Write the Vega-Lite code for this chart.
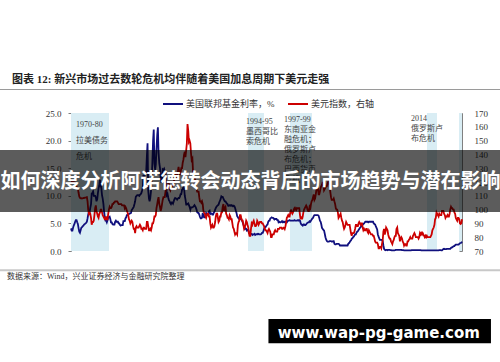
{
"$schema":"https://vega.github.io/schema/vega-lite/v6.json",
"width":391,"height":138,
"autosize":"none",
"padding":{"left":71,"top":113,"right":38,"bottom":111},
"background":"white",
"title":{"text":"图表 12:  新兴市场过去数轮危机均伴随着美国加息周期下美元走强","anchor":"start","frame":"group","dx":-59,"dy":10,"offset":5,"baseline":"alphabetic","font":"Liberation Serif, Noto Sans CJK SC","fontSize":11,"fontWeight":"bold","color":"#222222"},
"config":{"view":{"stroke":null},"font":"Liberation Serif, Noto Sans CJK SC",
"axis":{"grid":false,"domainColor":"#808080","tickColor":"#808080","labelColor":"#333333","labelFont":"Liberation Serif","labelFontSize":9,"zindex":1}},
"datasets":{"series":[
{"t":1971.00,"f":4.1,"d":120.5},{"t":1971.08,"f":3.7,"d":120.3},{"t":1971.17,"f":3.7,"d":120.1},{"t":1971.25,"f":4.2,"d":119.9},{"t":1971.33,"f":4.6,"d":120.0},{"t":1971.42,"f":4.9,"d":119.8},{"t":1971.50,"f":5.3,"d":119.5},{"t":1971.58,"f":5.6,"d":117.8},{"t":1971.67,"f":5.6,"d":116.8},{"t":1971.75,"f":5.2,"d":116.0},{"t":1971.83,"f":4.9,"d":115.2},{"t":1971.92,"f":4.1,"d":112.0},
{"t":1972.00,"f":3.5,"d":109.5},{"t":1972.08,"f":3.3,"d":108.5},{"t":1972.17,"f":3.8,"d":108.2},{"t":1972.25,"f":4.2,"d":108.3},{"t":1972.33,"f":4.3,"d":108.0},{"t":1972.42,"f":4.5,"d":108.2},{"t":1972.50,"f":4.6,"d":108.5},{"t":1972.58,"f":4.8,"d":108.4},{"t":1972.67,"f":4.9,"d":108.6},{"t":1972.75,"f":5.0,"d":108.7},{"t":1972.83,"f":5.1,"d":108.8},{"t":1972.92,"f":5.3,"d":109.0},
{"t":1973.00,"f":5.9,"d":106},{"t":1973.08,"f":6.6,"d":100},{"t":1973.17,"f":7.1,"d":97},{"t":1973.25,"f":7.1,"d":98},{"t":1973.33,"f":7.8,"d":97},{"t":1973.42,"f":8.5,"d":94},{"t":1973.50,"f":10.4,"d":89},{"t":1973.58,"f":10.5,"d":91},{"t":1973.67,"f":10.8,"d":91},{"t":1973.75,"f":10.0,"d":92},{"t":1973.83,"f":10.0,"d":96},{"t":1973.92,"f":10.0,"d":101},
{"t":1974.00,"f":9.7,"d":103},{"t":1974.08,"f":9.0,"d":99},{"t":1974.17,"f":9.4,"d":97},{"t":1974.25,"f":10.5,"d":95},{"t":1974.33,"f":11.3,"d":94},{"t":1974.42,"f":11.9,"d":97},{"t":1974.50,"f":12.9,"d":98},{"t":1974.58,"f":12.0,"d":100},{"t":1974.67,"f":11.3,"d":100},{"t":1974.75,"f":10.1,"d":98},{"t":1974.83,"f":9.5,"d":96},{"t":1974.92,"f":8.5,"d":95},
{"t":1975.00,"f":7.1,"d":94},{"t":1975.08,"f":6.2,"d":93},{"t":1975.17,"f":5.5,"d":93},{"t":1975.25,"f":5.5,"d":95},{"t":1975.33,"f":5.2,"d":93},{"t":1975.42,"f":5.6,"d":93},{"t":1975.50,"f":6.1,"d":97},{"t":1975.58,"f":6.1,"d":100},{"t":1975.67,"f":6.2,"d":102},{"t":1975.75,"f":5.8,"d":101},{"t":1975.83,"f":5.2,"d":101},{"t":1975.92,"f":5.2,"d":102},
{"t":1976.00,"f":4.9,"d":104},{"t":1976.08,"f":4.8,"d":104},{"t":1976.17,"f":4.8,"d":105},{"t":1976.25,"f":4.8,"d":105},{"t":1976.33,"f":5.3,"d":106},{"t":1976.42,"f":5.5,"d":106},{"t":1976.50,"f":5.3,"d":106},{"t":1976.58,"f":5.3,"d":106},{"t":1976.67,"f":5.3,"d":105},{"t":1976.75,"f":5.0,"d":104},{"t":1976.83,"f":5.0,"d":104},{"t":1976.92,"f":4.7,"d":104},
{"t":1977.00,"f":4.6,"d":104},{"t":1977.08,"f":4.7,"d":104},{"t":1977.17,"f":4.7,"d":103},{"t":1977.25,"f":4.7,"d":103},{"t":1977.33,"f":5.4,"d":103},{"t":1977.42,"f":5.4,"d":103},{"t":1977.50,"f":5.4,"d":101},{"t":1977.58,"f":5.9,"d":102},{"t":1977.67,"f":6.1,"d":101},{"t":1977.75,"f":6.5,"d":99},{"t":1977.83,"f":6.5,"d":98},{"t":1977.92,"f":6.6,"d":96},
{"t":1978.00,"f":6.7,"d":93},{"t":1978.08,"f":6.8,"d":92},{"t":1978.17,"f":6.8,"d":90},{"t":1978.25,"f":6.9,"d":91},{"t":1978.33,"f":7.4,"d":92},{"t":1978.42,"f":7.6,"d":91},{"t":1978.50,"f":7.8,"d":88},{"t":1978.58,"f":8.0,"d":86},{"t":1978.67,"f":8.5,"d":86},{"t":1978.75,"f":9.0,"d":83},{"t":1978.83,"f":9.8,"d":87},{"t":1978.92,"f":10.0,"d":88},
{"t":1979.00,"f":10.1,"d":87},{"t":1979.08,"f":10.1,"d":87},{"t":1979.17,"f":10.1,"d":87},{"t":1979.25,"f":10.0,"d":88},{"t":1979.33,"f":10.2,"d":89},{"t":1979.42,"f":10.3,"d":88},{"t":1979.50,"f":10.5,"d":86},{"t":1979.58,"f":10.9,"d":86},{"t":1979.67,"f":11.4,"d":85},{"t":1979.75,"f":13.8,"d":87},{"t":1979.83,"f":13.2,"d":87},{"t":1979.92,"f":13.8,"d":86},
{"t":1980.00,"f":14.0,"d":86},{"t":1980.08,"f":14.1,"d":86},{"t":1980.17,"f":17.2,"d":91},{"t":1980.25,"f":19.5,"d":91},{"t":1980.33,"f":11.0,"d":88},{"t":1980.42,"f":9.5,"d":85},{"t":1980.50,"f":9.0,"d":85},{"t":1980.58,"f":9.6,"d":86},{"t":1980.67,"f":10.9,"d":85},{"t":1980.75,"f":12.8,"d":87},{"t":1980.83,"f":15.9,"d":90},{"t":1980.92,"f":20.0,"d":90},
{"t":1981.00,"f":22.0,"d":92},{"t":1981.08,"f":15.9,"d":95},{"t":1981.17,"f":14.7,"d":95},{"t":1981.25,"f":15.7,"d":96},{"t":1981.33,"f":18.5,"d":101},{"t":1981.42,"f":21.0,"d":104},{"t":1981.50,"f":22.4,"d":107},{"t":1981.58,"f":17.8,"d":109},{"t":1981.67,"f":15.9,"d":104},{"t":1981.75,"f":15.1,"d":102},{"t":1981.83,"f":13.3,"d":99},{"t":1981.92,"f":12.4,"d":101},
{"t":1982.00,"f":13.2,"d":104},{"t":1982.08,"f":14.8,"d":107},{"t":1982.17,"f":14.7,"d":109},{"t":1982.25,"f":14.9,"d":109},{"t":1982.33,"f":14.5,"d":109},{"t":1982.42,"f":14.2,"d":113},{"t":1982.50,"f":12.6,"d":115},{"t":1982.58,"f":10.1,"d":116},{"t":1982.67,"f":10.3,"d":117},{"t":1982.75,"f":9.7,"d":119},{"t":1982.83,"f":9.2,"d":119},{"t":1982.92,"f":9.0,"d":115},
{"t":1983.00,"f":8.7,"d":114},{"t":1983.08,"f":8.5,"d":116},{"t":1983.17,"f":8.8,"d":117},{"t":1983.25,"f":8.8,"d":117},{"t":1983.33,"f":8.6,"d":118},{"t":1983.42,"f":9.0,"d":120},{"t":1983.50,"f":9.4,"d":123},{"t":1983.58,"f":9.6,"d":126},{"t":1983.67,"f":9.5,"d":125},{"t":1983.75,"f":9.5,"d":123},{"t":1983.83,"f":9.3,"d":126},{"t":1983.92,"f":9.5,"d":128},
{"t":1984.00,"f":9.6,"d":131},{"t":1984.08,"f":9.6,"d":127},{"t":1984.17,"f":9.9,"d":125},{"t":1984.25,"f":10.3,"d":127},{"t":1984.33,"f":10.3,"d":130},{"t":1984.42,"f":11.1,"d":130},{"t":1984.50,"f":11.2,"d":134},{"t":1984.58,"f":11.6,"d":136},{"t":1984.67,"f":11.3,"d":140},{"t":1984.75,"f":10.0,"d":142},{"t":1984.83,"f":9.4,"d":138},{"t":1984.92,"f":8.4,"d":143},
{"t":1985.00,"f":8.4,"d":148},{"t":1985.08,"f":8.5,"d":162},{"t":1985.17,"f":8.6,"d":157},{"t":1985.25,"f":8.3,"d":149},{"t":1985.33,"f":8.0,"d":150},{"t":1985.42,"f":7.5,"d":148},{"t":1985.50,"f":7.9,"d":141},{"t":1985.58,"f":7.9,"d":136},{"t":1985.67,"f":7.9,"d":137},{"t":1985.75,"f":8.0,"d":127},{"t":1985.83,"f":8.1,"d":126},{"t":1985.92,"f":8.3,"d":123},
{"t":1986.00,"f":8.1,"d":122},{"t":1986.08,"f":7.9,"d":117},{"t":1986.17,"f":7.5,"d":115},{"t":1986.25,"f":7.0,"d":113},{"t":1986.33,"f":6.9,"d":113},{"t":1986.42,"f":6.9,"d":113},{"t":1986.50,"f":6.6,"d":109},{"t":1986.58,"f":6.2,"d":106},{"t":1986.67,"f":5.9,"d":106},{"t":1986.75,"f":5.9,"d":105},{"t":1986.83,"f":6.0,"d":106},{"t":1986.92,"f":6.9,"d":104},
{"t":1987.00,"f":6.4,"d":99},{"t":1987.08,"f":6.1,"d":98},{"t":1987.17,"f":6.1,"d":97},{"t":1987.25,"f":6.4,"d":95},{"t":1987.33,"f":6.9,"d":94},{"t":1987.42,"f":6.7,"d":96},{"t":1987.50,"f":6.6,"d":97},{"t":1987.58,"f":6.7,"d":97},{"t":1987.67,"f":7.2,"d":95},{"t":1987.75,"f":7.3,"d":95},{"t":1987.83,"f":6.7,"d":90},{"t":1987.92,"f":6.8,"d":87},
{"t":1988.00,"f":6.8,"d":88},{"t":1988.08,"f":6.6,"d":89},{"t":1988.17,"f":6.6,"d":87},{"t":1988.25,"f":6.9,"d":87},{"t":1988.33,"f":7.1,"d":88},{"t":1988.42,"f":7.5,"d":91},{"t":1988.50,"f":7.8,"d":95},{"t":1988.58,"f":8.0,"d":97},{"t":1988.67,"f":8.2,"d":97},{"t":1988.75,"f":8.3,"d":94},{"t":1988.83,"f":8.4,"d":91},{"t":1988.92,"f":8.8,"d":92},
{"t":1989.00,"f":9.1,"d":95},{"t":1989.08,"f":9.4,"d":95},{"t":1989.17,"f":9.9,"d":98},{"t":1989.25,"f":9.8,"d":98},{"t":1989.33,"f":9.8,"d":102},{"t":1989.42,"f":9.5,"d":104},{"t":1989.50,"f":9.2,"d":99},{"t":1989.58,"f":9.0,"d":101},{"t":1989.67,"f":9.0,"d":102},{"t":1989.75,"f":8.8,"d":97},{"t":1989.83,"f":8.6,"d":96},{"t":1989.92,"f":8.5,"d":94},
{"t":1990.00,"f":8.2,"d":94},{"t":1990.08,"f":8.2,"d":93},{"t":1990.17,"f":8.3,"d":96},{"t":1990.25,"f":8.3,"d":95},{"t":1990.33,"f":8.2,"d":93},{"t":1990.42,"f":8.3,"d":93},{"t":1990.50,"f":8.2,"d":90},{"t":1990.58,"f":8.1,"d":87},{"t":1990.67,"f":8.2,"d":86},{"t":1990.75,"f":8.1,"d":84},{"t":1990.83,"f":7.8,"d":82},{"t":1990.92,"f":7.3,"d":83},
{"t":1991.00,"f":6.9,"d":83},{"t":1991.08,"f":6.3,"d":82},{"t":1991.17,"f":6.1,"d":89},{"t":1991.25,"f":5.9,"d":91},{"t":1991.33,"f":5.8,"d":92},{"t":1991.42,"f":5.9,"d":96},{"t":1991.50,"f":5.8,"d":96},{"t":1991.58,"f":5.7,"d":94},{"t":1991.67,"f":5.5,"d":92},{"t":1991.75,"f":5.2,"d":92},{"t":1991.83,"f":4.8,"d":89},{"t":1991.92,"f":4.4,"d":86},
{"t":1992.00,"f":4.0,"d":87},{"t":1992.08,"f":4.1,"d":89},{"t":1992.17,"f":4.0,"d":92},{"t":1992.25,"f":3.7,"d":91},{"t":1992.33,"f":3.8,"d":89},{"t":1992.42,"f":3.8,"d":87},{"t":1992.50,"f":3.3,"d":83},{"t":1992.58,"f":3.3,"d":81},{"t":1992.67,"f":3.2,"d":81},{"t":1992.75,"f":3.1,"d":86},{"t":1992.83,"f":3.1,"d":90},{"t":1992.92,"f":2.9,"d":89},
{"t":1993.00,"f":3.0,"d":91},{"t":1993.08,"f":3.0,"d":92},{"t":1993.17,"f":3.1,"d":90},{"t":1993.25,"f":2.9,"d":88},{"t":1993.33,"f":3.0,"d":88},{"t":1993.42,"f":3.0,"d":89},{"t":1993.50,"f":3.1,"d":92},{"t":1993.58,"f":3.0,"d":91},{"t":1993.67,"f":3.1,"d":89},{"t":1993.75,"f":3.0,"d":90},{"t":1993.83,"f":3.0,"d":91},{"t":1993.92,"f":3.0,"d":91},
{"t":1994.00,"f":3.1,"d":91},{"t":1994.08,"f":3.3,"d":90},{"t":1994.17,"f":3.3,"d":90},{"t":1994.25,"f":3.6,"d":89},{"t":1994.33,"f":4.0,"d":88},{"t":1994.42,"f":4.3,"d":86},{"t":1994.50,"f":4.3,"d":85},{"t":1994.58,"f":4.5,"d":85},{"t":1994.67,"f":4.7,"d":84},{"t":1994.75,"f":4.8,"d":83},{"t":1994.83,"f":5.3,"d":85},{"t":1994.92,"f":5.5,"d":86},
{"t":1995.00,"f":5.5,"d":85},{"t":1995.08,"f":5.9,"d":84},{"t":1995.17,"f":6.0,"d":80},{"t":1995.25,"f":6.1,"d":80},{"t":1995.33,"f":6.0,"d":82},{"t":1995.42,"f":6.0,"d":82},{"t":1995.50,"f":5.9,"d":82},{"t":1995.58,"f":5.7,"d":84},{"t":1995.67,"f":5.8,"d":85},{"t":1995.75,"f":5.8,"d":84},{"t":1995.83,"f":5.8,"d":84},{"t":1995.92,"f":5.6,"d":84},
{"t":1996.00,"f":5.6,"d":86},{"t":1996.08,"f":5.2,"d":86},{"t":1996.17,"f":5.3,"d":86},{"t":1996.25,"f":5.2,"d":87},{"t":1996.33,"f":5.2,"d":87},{"t":1996.42,"f":5.3,"d":87},{"t":1996.50,"f":5.4,"d":86},{"t":1996.58,"f":5.2,"d":86},{"t":1996.67,"f":5.3,"d":87},{"t":1996.75,"f":5.2,"d":87},{"t":1996.83,"f":5.3,"d":86},{"t":1996.92,"f":5.3,"d":88},
{"t":1997.00,"f":5.3,"d":91},{"t":1997.08,"f":5.2,"d":94},{"t":1997.17,"f":5.4,"d":95},{"t":1997.25,"f":5.5,"d":96},{"t":1997.33,"f":5.5,"d":95},{"t":1997.42,"f":5.6,"d":95},{"t":1997.50,"f":5.5,"d":98},{"t":1997.58,"f":5.5,"d":100},{"t":1997.67,"f":5.5,"d":98},{"t":1997.75,"f":5.5,"d":97},{"t":1997.83,"f":5.5,"d":98},{"t":1997.92,"f":5.5,"d":100},
{"t":1998.00,"f":5.6,"d":101},{"t":1998.08,"f":5.5,"d":100},{"t":1998.17,"f":5.5,"d":101},{"t":1998.25,"f":5.5,"d":100},{"t":1998.33,"f":5.5,"d":101},{"t":1998.42,"f":5.6,"d":101},{"t":1998.50,"f":5.5,"d":101},{"t":1998.58,"f":5.6,"d":101},{"t":1998.67,"f":5.5,"d":96},{"t":1998.75,"f":5.1,"d":93},{"t":1998.83,"f":4.8,"d":95},{"t":1998.92,"f":4.7,"d":93},
{"t":1999.00,"f":4.6,"d":95},{"t":1999.08,"f":4.8,"d":98},{"t":1999.17,"f":4.8,"d":100},{"t":1999.25,"f":4.7,"d":101},{"t":1999.33,"f":4.7,"d":102},{"t":1999.42,"f":4.8,"d":103},{"t":1999.50,"f":5.0,"d":102},{"t":1999.58,"f":5.1,"d":100},{"t":1999.67,"f":5.2,"d":99},{"t":1999.75,"f":5.2,"d":99},{"t":1999.83,"f":5.4,"d":102},{"t":1999.92,"f":5.3,"d":101},
{"t":2000.00,"f":5.5,"d":104},{"t":2000.08,"f":5.7,"d":106},{"t":2000.17,"f":5.9,"d":107},{"t":2000.25,"f":6.0,"d":109},{"t":2000.33,"f":6.3,"d":111},{"t":2000.42,"f":6.5,"d":107},{"t":2000.50,"f":6.5,"d":108},{"t":2000.58,"f":6.5,"d":111},{"t":2000.67,"f":6.5,"d":115},{"t":2000.75,"f":6.5,"d":117},{"t":2000.83,"f":6.5,"d":116},{"t":2000.92,"f":6.4,"d":111},
{"t":2001.00,"f":6.0,"d":111},{"t":2001.08,"f":5.5,"d":113},{"t":2001.17,"f":5.3,"d":116},{"t":2001.25,"f":4.8,"d":117},{"t":2001.33,"f":4.2,"d":118},{"t":2001.42,"f":4.0,"d":120},{"t":2001.50,"f":3.8,"d":118},{"t":2001.58,"f":3.7,"d":114},{"t":2001.67,"f":3.1,"d":115},{"t":2001.75,"f":2.5,"d":116},{"t":2001.83,"f":2.1,"d":117},{"t":2001.92,"f":1.8,"d":117},
{"t":2002.00,"f":1.7,"d":119},{"t":2002.08,"f":1.7,"d":120},{"t":2002.17,"f":1.7,"d":119},{"t":2002.25,"f":1.8,"d":117},{"t":2002.33,"f":1.8,"d":113},{"t":2002.42,"f":1.8,"d":109},{"t":2002.50,"f":1.7,"d":107},{"t":2002.58,"f":1.7,"d":107},{"t":2002.67,"f":1.8,"d":107},{"t":2002.75,"f":1.8,"d":108},{"t":2002.83,"f":1.3,"d":106},{"t":2002.92,"f":1.2,"d":104},
{"t":2003.00,"f":1.2,"d":101},{"t":2003.08,"f":1.3,"d":100},{"t":2003.17,"f":1.3,"d":100},{"t":2003.25,"f":1.3,"d":98},{"t":2003.33,"f":1.3,"d":94},{"t":2003.42,"f":1.2,"d":95},{"t":2003.50,"f":1.0,"d":96},{"t":2003.58,"f":1.0,"d":97},{"t":2003.67,"f":1.0,"d":94},{"t":2003.75,"f":1.0,"d":92},{"t":2003.83,"f":1.0,"d":91},{"t":2003.92,"f":1.0,"d":88},
{"t":2004.00,"f":1.0,"d":86},{"t":2004.08,"f":1.0,"d":87},{"t":2004.17,"f":1.0,"d":89},{"t":2004.25,"f":1.0,"d":91},{"t":2004.33,"f":1.0,"d":90},{"t":2004.42,"f":1.0,"d":89},{"t":2004.50,"f":1.3,"d":89},{"t":2004.58,"f":1.4,"d":89},{"t":2004.67,"f":1.6,"d":89},{"t":2004.75,"f":1.8,"d":86},{"t":2004.83,"f":1.9,"d":83},{"t":2004.92,"f":2.2,"d":81},
{"t":2005.00,"f":2.3,"d":83},{"t":2005.08,"f":2.5,"d":83},{"t":2005.17,"f":2.6,"d":83},{"t":2005.25,"f":2.8,"d":84},{"t":2005.33,"f":3.0,"d":86},{"t":2005.42,"f":3.0,"d":89},{"t":2005.50,"f":3.3,"d":89},{"t":2005.58,"f":3.5,"d":88},{"t":2005.67,"f":3.6,"d":88},{"t":2005.75,"f":3.8,"d":90},{"t":2005.83,"f":4.0,"d":91},{"t":2005.92,"f":4.2,"d":90},
{"t":2006.00,"f":4.3,"d":89},{"t":2006.08,"f":4.5,"d":90},{"t":2006.17,"f":4.6,"d":90},{"t":2006.25,"f":4.8,"d":87},{"t":2006.33,"f":4.9,"d":85},{"t":2006.42,"f":5.0,"d":86},{"t":2006.50,"f":5.2,"d":85},{"t":2006.58,"f":5.3,"d":85},{"t":2006.67,"f":5.3,"d":86},{"t":2006.75,"f":5.3,"d":86},{"t":2006.83,"f":5.3,"d":84},{"t":2006.92,"f":5.2,"d":83},
{"t":2007.00,"f":5.3,"d":85},{"t":2007.08,"f":5.3,"d":84},{"t":2007.17,"f":5.3,"d":83},{"t":2007.25,"f":5.3,"d":82},{"t":2007.33,"f":5.3,"d":82},{"t":2007.42,"f":5.3,"d":82},{"t":2007.50,"f":5.3,"d":81},{"t":2007.58,"f":5.0,"d":81},{"t":2007.67,"f":4.9,"d":79},{"t":2007.75,"f":4.8,"d":77},{"t":2007.83,"f":4.5,"d":76},{"t":2007.92,"f":4.2,"d":76},
{"t":2008.00,"f":3.9,"d":76},{"t":2008.08,"f":3.0,"d":75},{"t":2008.17,"f":2.6,"d":72},{"t":2008.25,"f":2.3,"d":72},{"t":2008.33,"f":2.0,"d":73},{"t":2008.42,"f":2.0,"d":73},{"t":2008.50,"f":2.0,"d":72},{"t":2008.58,"f":2.0,"d":75},{"t":2008.67,"f":1.8,"d":78},{"t":2008.75,"f":1.0,"d":84},{"t":2008.83,"f":0.4,"d":86},{"t":2008.92,"f":0.2,"d":82},
{"t":2009.00,"f":0.15,"d":84},{"t":2009.08,"f":0.2,"d":87},{"t":2009.17,"f":0.2,"d":86},{"t":2009.25,"f":0.15,"d":85},{"t":2009.33,"f":0.2,"d":82},{"t":2009.42,"f":0.2,"d":80},{"t":2009.50,"f":0.2,"d":79},{"t":2009.58,"f":0.15,"d":79},{"t":2009.67,"f":0.15,"d":77},{"t":2009.75,"f":0.1,"d":76},{"t":2009.83,"f":0.1,"d":75},{"t":2009.92,"f":0.1,"d":77},
{"t":2010.00,"f":0.1,"d":78},{"t":2010.08,"f":0.1,"d":80},{"t":2010.17,"f":0.15,"d":81},{"t":2010.25,"f":0.2,"d":81},{"t":2010.33,"f":0.2,"d":86},{"t":2010.42,"f":0.2,"d":87},{"t":2010.50,"f":0.2,"d":83},{"t":2010.58,"f":0.2,"d":82},{"t":2010.67,"f":0.2,"d":81},{"t":2010.75,"f":0.2,"d":77},{"t":2010.83,"f":0.2,"d":79},{"t":2010.92,"f":0.2,"d":80},
{"t":2011.00,"f":0.15,"d":79},{"t":2011.08,"f":0.15,"d":77},{"t":2011.17,"f":0.15,"d":76},{"t":2011.25,"f":0.1,"d":74},{"t":2011.33,"f":0.1,"d":75},{"t":2011.42,"f":0.1,"d":75},{"t":2011.50,"f":0.1,"d":74},{"t":2011.58,"f":0.1,"d":74},{"t":2011.67,"f":0.1,"d":77},{"t":2011.75,"f":0.1,"d":77},{"t":2011.83,"f":0.1,"d":78},{"t":2011.92,"f":0.1,"d":79},
{"t":2012.00,"f":0.1,"d":80},{"t":2012.08,"f":0.1,"d":79},{"t":2012.17,"f":0.15,"d":79},{"t":2012.25,"f":0.15,"d":79},{"t":2012.33,"f":0.15,"d":81},{"t":2012.42,"f":0.15,"d":82},{"t":2012.50,"f":0.15,"d":83},{"t":2012.58,"f":0.15,"d":82},{"t":2012.67,"f":0.15,"d":80},{"t":2012.75,"f":0.15,"d":80},{"t":2012.83,"f":0.15,"d":80},{"t":2012.92,"f":0.15,"d":80},
{"t":2013.00,"f":0.15,"d":79},{"t":2013.08,"f":0.15,"d":80},{"t":2013.17,"f":0.15,"d":83},{"t":2013.25,"f":0.15,"d":82},{"t":2013.33,"f":0.1,"d":83},{"t":2013.42,"f":0.1,"d":82},{"t":2013.50,"f":0.1,"d":83},{"t":2013.58,"f":0.1,"d":82},{"t":2013.67,"f":0.1,"d":81},{"t":2013.75,"f":0.1,"d":80},{"t":2013.83,"f":0.1,"d":81},{"t":2013.92,"f":0.1,"d":80},
{"t":2014.00,"f":0.1,"d":81},{"t":2014.08,"f":0.1,"d":80},{"t":2014.17,"f":0.1,"d":80},{"t":2014.25,"f":0.1,"d":80},{"t":2014.33,"f":0.1,"d":80},{"t":2014.42,"f":0.1,"d":80},{"t":2014.50,"f":0.1,"d":81},{"t":2014.58,"f":0.1,"d":82},{"t":2014.67,"f":0.1,"d":85},{"t":2014.75,"f":0.1,"d":86},{"t":2014.83,"f":0.1,"d":87},{"t":2014.92,"f":0.1,"d":89},
{"t":2015.00,"f":0.1,"d":93},{"t":2015.08,"f":0.1,"d":94},{"t":2015.17,"f":0.1,"d":98},{"t":2015.25,"f":0.1,"d":97},{"t":2015.33,"f":0.1,"d":96},{"t":2015.42,"f":0.1,"d":95},{"t":2015.50,"f":0.15,"d":97},{"t":2015.58,"f":0.15,"d":96},{"t":2015.67,"f":0.15,"d":96},{"t":2015.75,"f":0.1,"d":96},{"t":2015.83,"f":0.1,"d":99},{"t":2015.92,"f":0.25,"d":99},
{"t":2016.00,"f":0.35,"d":99},{"t":2016.08,"f":0.4,"d":97},{"t":2016.17,"f":0.35,"d":96},{"t":2016.25,"f":0.35,"d":94},{"t":2016.33,"f":0.35,"d":95},{"t":2016.42,"f":0.4,"d":95},{"t":2016.50,"f":0.4,"d":96},{"t":2016.58,"f":0.4,"d":95},{"t":2016.67,"f":0.4,"d":95},{"t":2016.75,"f":0.4,"d":97},{"t":2016.83,"f":0.4,"d":100},{"t":2016.92,"f":0.55,"d":102},
{"t":2017.00,"f":0.65,"d":101},{"t":2017.08,"f":0.65,"d":101},{"t":2017.17,"f":0.8,"d":100},{"t":2017.25,"f":0.9,"d":100},{"t":2017.33,"f":0.9,"d":98},{"t":2017.42,"f":1.05,"d":97},{"t":2017.50,"f":1.15,"d":94},{"t":2017.58,"f":1.15,"d":93},{"t":2017.67,"f":1.15,"d":92},{"t":2017.75,"f":1.15,"d":94},{"t":2017.83,"f":1.15,"d":94},{"t":2017.92,"f":1.3,"d":93},
{"t":2018.00,"f":1.4,"d":90},{"t":2018.08,"f":1.45,"d":89.5},{"t":2018.17,"f":1.5,"d":90},{"t":2018.25,"f":1.7,"d":93}
]},
"layer":[
{"layer":[
{"data":{"values":[{"s":1971.0,"e":1975.59},{"s":1992.39,"e":1994.32},{"s":1997.46,"e":2000.12},{"s":2014.02,"e":2015.23},{"s":2017.89,"e":2018.25}]},
"mark":{"type":"rect","color":"#d9edf4"},
"encoding":{"x":{"field":"s","type":"quantitative","scale":{"domain":[1971,2018.25],"nice":false,"zero":false},"axis":null},"x2":{"field":"e"}}},
{"data":{"name":"series"},
"mark":{"type":"line","strokeWidth":1.8},
"encoding":{
"x":{"field":"t","type":"quantitative","scale":{"domain":[1971,2018.25],"nice":false,"zero":false},
"axis":{"values":[1971,1976,1981,1986,1991,1996,2001,2006,2011,2016],"labelExpr":"slice(toString(datum.value),2)","labelFlush":false,"tickSize":3,"labelPadding":2,"title":null}},
"y":{"field":"f","type":"quantitative","scale":{"domain":[0,25],"nice":false},"axis":{"orient":"left","values":[0,5,10,15,20,25],"format":".1f","title":null,"tickSize":3,"labelPadding":7}},
"color":{"datum":"美国联邦基金利率，%","scale":{"domain":["美国联邦基金利率，%","美元指数，右轴"],"range":["#10107e","#cc0000"]},
"legend":{"orient":"none","legendX":91,"legendY":-20,"direction":"horizontal","title":null,"symbolType":"stroke","symbolSize":400,"symbolStrokeWidth":2,"labelFont":"Liberation Serif, Noto Sans CJK SC","labelFontSize":9,"labelColor":"#333333","labelOffset":2,"columnPadding":9,"padding":0}}}}
]},
{"data":{"name":"series"},
"mark":{"type":"line","strokeWidth":1.8},
"encoding":{
"x":{"field":"t","type":"quantitative","scale":{"domain":[1971,2018.25],"nice":false,"zero":false},"axis":null},
"y":{"field":"d","type":"quantitative","scale":{"domain":[70,170],"nice":false,"zero":false},"axis":{"orient":"right","values":[70,80,90,100,110,120,130,140,150,160,170],"format":"d","title":null,"tickSize":-3,"labelPadding":15}},
"color":{"datum":"美元指数，右轴","scale":{"domain":["美国联邦基金利率，%","美元指数，右轴"],"range":["#10107e","#cc0000"]},"legend":null}}},
{"data":{"values":[{}]},
"layer":[
{"mark":{"type":"rect","color":"#9a9a9a"},
"encoding":{"x":{"datum":1962.41,"type":"quantitative","scale":{"domain":[1971,2018.25],"nice":false,"zero":false},"axis":null},"x2":{"datum":2022.87},"y":{"datum":29.35,"type":"quantitative","scale":{"domain":[0,25],"nice":false},"axis":null},"y2":{"datum":29.17}}},
{"mark":{"type":"rect","color":"#c8c8c8"},
"encoding":{"x":{"datum":1962.41,"type":"quantitative","scale":{"domain":[1971,2018.25],"nice":false,"zero":false},"axis":null},"x2":{"datum":2022.87},"y":{"datum":-3.3,"type":"quantitative","scale":{"domain":[0,25],"nice":false},"axis":null},"y2":{"datum":-3.66}}},
{"mark":{"type":"text","text":"数据来源：Wind，兴业证券经济与金融研究院整理","align":"left","baseline":"middle","fontSize":8,"font":"Liberation Serif, Noto Sans CJK SC","color":"#333333"},
"encoding":{"x":{"datum":1963.27,"type":"quantitative","scale":{"domain":[1971,2018.25],"nice":false,"zero":false},"axis":null},"y":{"datum":-4.71,"type":"quantitative","scale":{"domain":[0,25],"nice":false},"axis":null}}},
{"mark":{"type":"text","text":["1970-80","拉美债务","危机"],"align":"left","baseline":"top","lineHeight":16,"fontSize":8,"font":"Liberation Serif, Noto Sans CJK SC","color":"#444444"},
"encoding":{"x":{"datum":1971.6,"type":"quantitative","scale":{"domain":[1971,2018.25],"nice":false,"zero":false},"axis":null},"y":{"datum":23.64,"type":"quantitative","scale":{"domain":[0,25],"nice":false},"axis":null}}},
{"mark":{"type":"text","text":["1994-95","墨西哥比","索危机"],"align":"left","baseline":"top","lineHeight":10,"fontSize":8,"font":"Liberation Serif, Noto Sans CJK SC","color":"#444444"},
"encoding":{"x":{"datum":1992.15,"type":"quantitative","scale":{"domain":[1971,2018.25],"nice":false,"zero":false},"axis":null},"y":{"datum":24.18,"type":"quantitative","scale":{"domain":[0,25],"nice":false},"axis":null}}},
{"mark":{"type":"text","text":["1997-99","东南亚金","融危机；","俄罗斯卢","布危机；","巴西货币","危机"],"align":"left","baseline":"top","lineHeight":10,"fontSize":8,"font":"Liberation Serif, Noto Sans CJK SC","color":"#444444"},
"encoding":{"x":{"datum":1996.74,"type":"quantitative","scale":{"domain":[1971,2018.25],"nice":false,"zero":false},"axis":null},"y":{"datum":24.37,"type":"quantitative","scale":{"domain":[0,25],"nice":false},"axis":null}}},
{"mark":{"type":"text","text":["2014","俄罗斯卢","布危机"],"align":"left","baseline":"top","lineHeight":10,"fontSize":8,"font":"Liberation Serif, Noto Sans CJK SC","color":"#444444"},
"encoding":{"x":{"datum":2012.09,"type":"quantitative","scale":{"domain":[1971,2018.25],"nice":false,"zero":false},"axis":null},"y":{"datum":24.55,"type":"quantitative","scale":{"domain":[0,25],"nice":false},"axis":null}}},
{"mark":{"type":"rect","color":"#000000","opacity":0.64},
"encoding":{"x":{"datum":1962.41,"type":"quantitative","scale":{"domain":[1971,2018.25],"nice":false,"zero":false},"axis":null},"x2":{"datum":2022.87},"y":{"datum":18.3,"type":"quantitative","scale":{"domain":[0,25],"nice":false},"axis":null},"y2":{"datum":7.07}}},
{"mark":{"type":"text","text":"如何深度分析阿诺德转会动态背后的市场趋势与潜在影响","align":"center","baseline":"middle","font":"Noto Sans CJK SC","fontSize":20,"fontWeight":"bold","color":"#ffffff"},
"encoding":{"x":{"datum":1992.7,"type":"quantitative","scale":{"domain":[1971,2018.25],"nice":false,"zero":false},"axis":null},"y":{"datum":12.5,"type":"quantitative","scale":{"domain":[0,25],"nice":false},"axis":null}}},
{"mark":{"type":"rect","color":"#000000"},
"encoding":{"x":{"datum":1994.86,"type":"quantitative","scale":{"domain":[1971,2018.25],"nice":false,"zero":false},"axis":null},"x2":{"datum":2021.75},"y":{"datum":-12.32,"type":"quantitative","scale":{"domain":[0,25],"nice":false},"axis":null},"y2":{"datum":-16.72}}},
{"mark":{"type":"text","text":"www.wap-pg-game.com","align":"center","baseline":"middle","font":"DejaVu Sans","fontSize":15,"fontWeight":"bold","color":"#ffffff"},
"encoding":{"x":{"datum":2008.2,"type":"quantitative","scale":{"domain":[1971,2018.25],"nice":false,"zero":false},"axis":null},"y":{"datum":-14.86,"type":"quantitative","scale":{"domain":[0,25],"nice":false},"axis":null}}}
]}
],
"resolve":{"scale":{"y":"independent"},"axis":{"y":"independent"}}
}
